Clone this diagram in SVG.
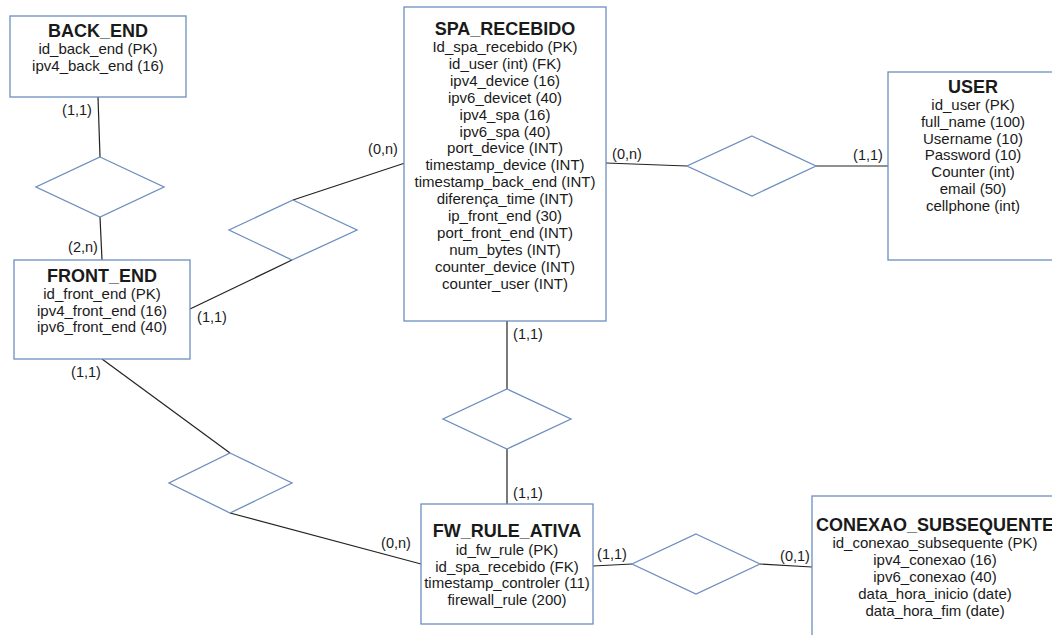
<svg xmlns="http://www.w3.org/2000/svg" width="1052" height="635" viewBox="0 0 1052 635">
<style>
.box{fill:#ffffff;stroke:#6c8ebf;stroke-width:1.3}
.rel{fill:#ffffff;stroke:#6c8ebf;stroke-width:1.3}
.ln{stroke:#222222;stroke-width:1.2;fill:none}
text{font-family:"Liberation Sans",Arial,sans-serif;fill:#1a1a1a;text-anchor:middle}
.t{font-size:18px;font-weight:bold}
.a{font-size:15px}
.c{font-size:14.5px}
</style>
<rect width="1052" height="635" fill="#ffffff"/>
<g id="connectors">
<line class="ln" x1="98" y1="97" x2="100" y2="157"/>
<line class="ln" x1="100" y1="217" x2="102" y2="260"/>
<line class="ln" x1="293" y1="200" x2="405" y2="163"/>
<line class="ln" x1="292" y1="260" x2="190" y2="309"/>
<line class="ln" x1="606" y1="163" x2="687" y2="166"/>
<line class="ln" x1="816" y1="166" x2="888" y2="166"/>
<line class="ln" x1="507" y1="321" x2="507" y2="389"/>
<line class="ln" x1="507" y1="449" x2="507" y2="504"/>
<line class="ln" x1="102" y1="359" x2="230" y2="453"/>
<line class="ln" x1="230" y1="513" x2="421" y2="564"/>
<line class="ln" x1="593" y1="566" x2="632" y2="564"/>
<line class="ln" x1="760" y1="564" x2="812" y2="567"/>
</g>
<g id="rel_back_front"><polygon class="rel" points="100,157 164,187 100,217 36,187"/></g>
<g id="rel_front_spa"><polygon class="rel" points="293,200 357,230 292,260 229,230"/></g>
<g id="rel_spa_user"><polygon class="rel" points="752,136 816,166 752,196 687,166"/></g>
<g id="rel_spa_fw"><polygon class="rel" points="507,389 571,419 507,449 443,419"/></g>
<g id="rel_front_fw"><polygon class="rel" points="230,453 292,483 230,513 169,483"/></g>
<g id="rel_fw_conexao"><polygon class="rel" points="696,534 760,564 696,594 632,564"/></g>
<g id="back_end">
<rect class="box" x="10" y="16" width="176" height="81"/>
<text class="t" x="98" y="37">BACK_END</text>
<text class="a" x="98" y="53.5">id_back_end (PK)</text>
<text class="a" x="98" y="70.5">ipv4_back_end (16)</text>
</g>
<g id="front_end">
<rect class="box" x="14" y="260" width="176" height="99"/>
<text class="t" x="102" y="282">FRONT_END</text>
<text class="a" x="102" y="299">id_front_end (PK)</text>
<text class="a" x="102" y="315.5">ipv4_front_end (16)</text>
<text class="a" x="102" y="332">ipv6_front_end (40)</text>
</g>
<g id="spa_recebido">
<rect class="box" x="404" y="7" width="202" height="314"/>
<text class="t" x="505" y="34.5">SPA_RECEBIDO</text>
<text class="a" x="505" y="52">Id_spa_recebido (PK)</text>
<text class="a" x="505" y="68.9">id_user (int) (FK)</text>
<text class="a" x="505" y="85.8">ipv4_device (16)</text>
<text class="a" x="505" y="102.7">ipv6_devicet (40)</text>
<text class="a" x="505" y="119.6">ipv4_spa (16)</text>
<text class="a" x="505" y="136.5">ipv6_spa (40)</text>
<text class="a" x="505" y="153.4">port_device (INT)</text>
<text class="a" x="505" y="170.3">timestamp_device (INT)</text>
<text class="a" x="505" y="187.2">timestamp_back_end (INT)</text>
<text class="a" x="505" y="204.1">diferença_time (INT)</text>
<text class="a" x="505" y="221">ip_front_end (30)</text>
<text class="a" x="505" y="237.9">port_front_end (INT)</text>
<text class="a" x="505" y="254.8">num_bytes (INT)</text>
<text class="a" x="505" y="271.7">counter_device (INT)</text>
<text class="a" x="505" y="288.6">counter_user (INT)</text>
</g>
<g id="user">
<rect class="box" x="888" y="72" width="170" height="188"/>
<text class="t" x="973" y="93">USER</text>
<text class="a" x="973" y="110">id_user (PK)</text>
<text class="a" x="973" y="126.75">full_name (100)</text>
<text class="a" x="973" y="143.5">Username (10)</text>
<text class="a" x="973" y="160.25">Password (10)</text>
<text class="a" x="973" y="177">Counter (int)</text>
<text class="a" x="973" y="193.75">email (50)</text>
<text class="a" x="973" y="210.5">cellphone (int)</text>
</g>
<g id="fw_rule_ativa">
<rect class="box" x="421" y="504" width="172" height="120"/>
<text class="t" x="507" y="537">FW_RULE_ATIVA</text>
<text class="a" x="507" y="555">id_fw_rule (PK)</text>
<text class="a" x="507" y="571.5">id_spa_recebido (FK)</text>
<text class="a" x="507" y="588">timestamp_controler (11)</text>
<text class="a" x="507" y="604.5">firewall_rule (200)</text>
</g>
<g id="conexao_subsequente">
<rect class="box" x="812" y="496" width="246" height="150"/>
<text class="t" x="935" y="531">CONEXAO_SUBSEQUENTE</text>
<text class="a" x="935" y="548">id_conexao_subsequente (PK)</text>
<text class="a" x="935" y="565">ipv4_conexao (16)</text>
<text class="a" x="935" y="582">ipv6_conexao (40)</text>
<text class="a" x="935" y="599">data_hora_inicio (date)</text>
<text class="a" x="935" y="616">data_hora_fim (date)</text>
</g>
<g id="cardinalities">
<text class="c" x="77" y="114.5">(1,1)</text>
<text class="c" x="83" y="252">(2,n)</text>
<text class="c" x="383" y="154">(0,n)</text>
<text class="c" x="212" y="322">(1,1)</text>
<text class="c" x="86" y="377">(1,1)</text>
<text class="c" x="627" y="159">(0,n)</text>
<text class="c" x="868" y="160">(1,1)</text>
<text class="c" x="528" y="339">(1,1)</text>
<text class="c" x="528" y="498">(1,1)</text>
<text class="c" x="396" y="548">(0,n)</text>
<text class="c" x="612" y="559">(1,1)</text>
<text class="c" x="795" y="561">(0,1)</text>
</g>
</svg>
